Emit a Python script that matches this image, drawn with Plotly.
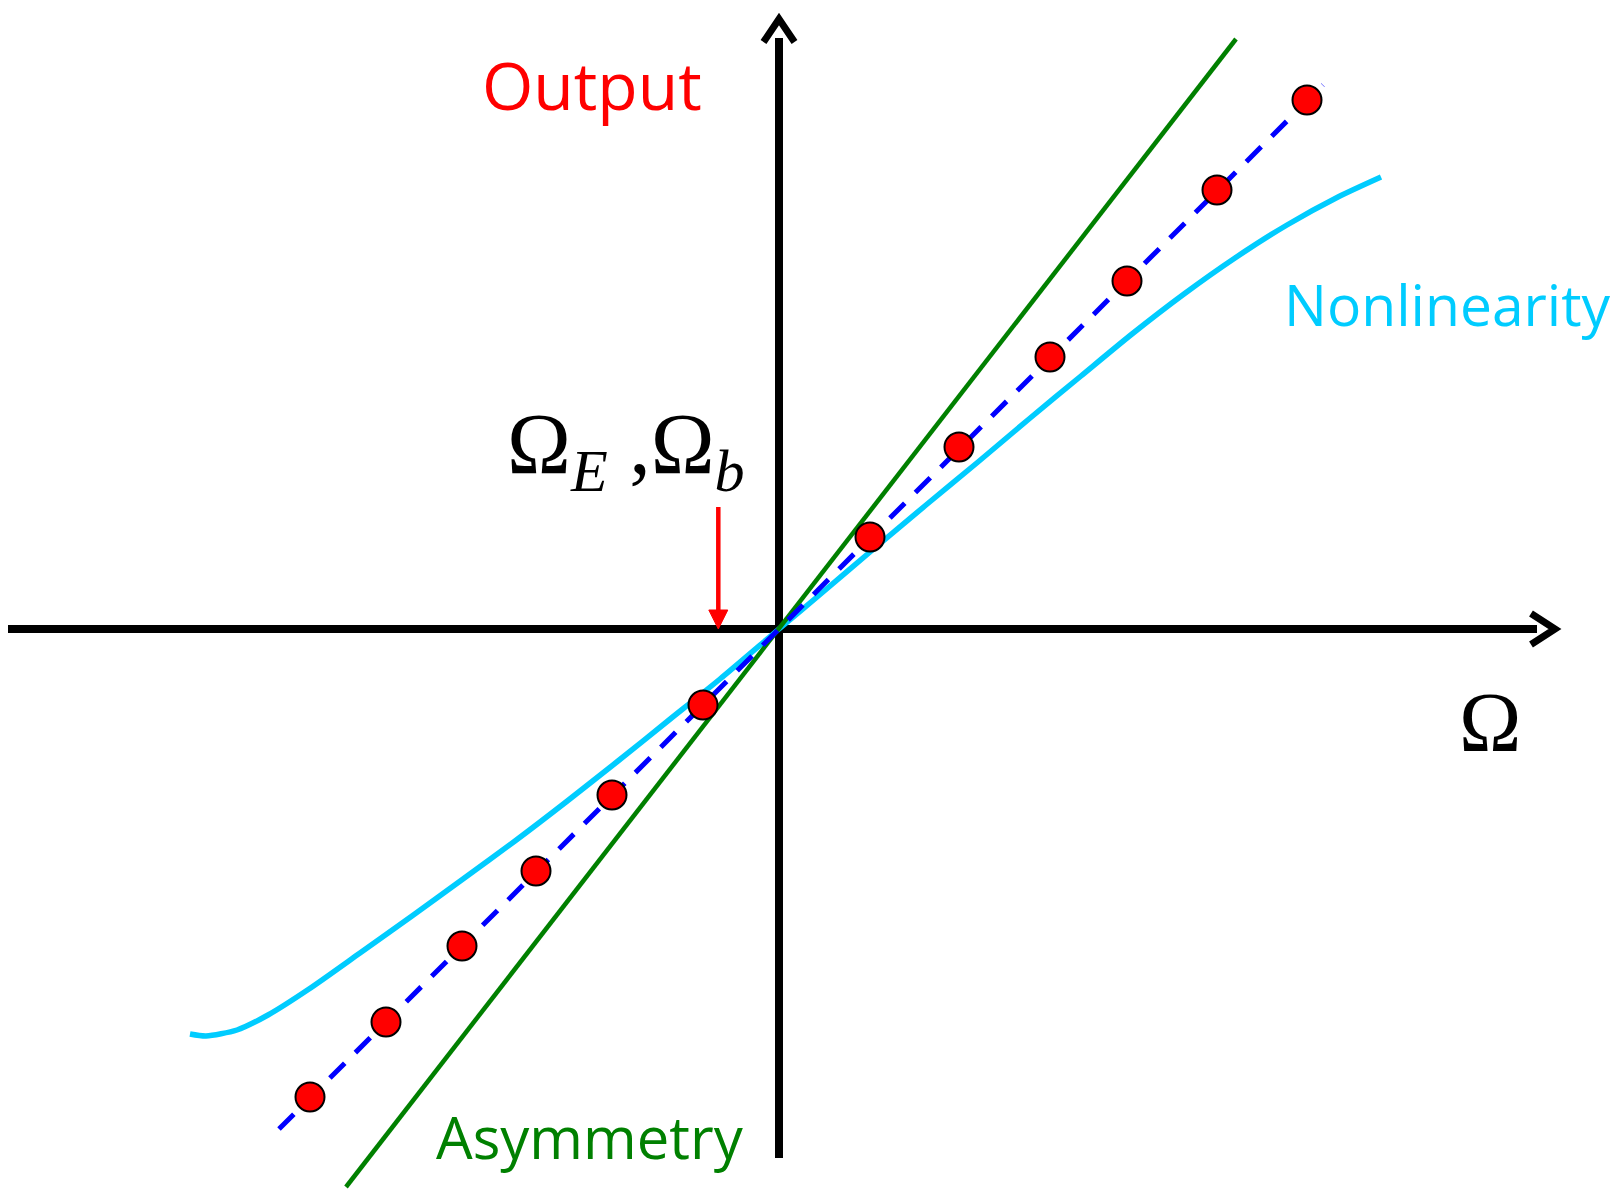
import plotly.graph_objects as go

# Input rate Omega (horizontal) vs. gyro output (vertical), arbitrary units
# --- measured output points (red dots)
dot_x = [-4.69, -3.93, -3.17, -2.43, -1.67, -0.76, 0.91, 1.80, 2.71, 3.48, 4.38, 5.28]
dot_y = [-4.68, -3.93, -3.17, -2.42, -1.66, -0.76, 0.92, 1.82, 2.72, 3.48, 4.39, 5.29]

# --- ideal linear response (blue dashed)
ideal_x = [-5.00, 5.44]
ideal_y = [-5.00, 5.44]

# --- asymmetric scale factor (green)
asym_x = [-4.33, 4.57]
asym_y = [-5.58, 5.90]

# --- nonlinear response (cyan)
nonlin_x = [-5.89, -5.73, -5.42, -5.11, -4.70, -4.19, -3.67, -3.16, -2.64, -2.13,
            -1.61, -1.10, -0.59, 0.00, 0.44, 0.91, 1.47, 1.99, 2.50, 3.02,
            3.53, 4.05, 4.56, 5.08, 5.59, 6.02]
nonlin_y = [-4.05, -4.07, -4.01, -3.86, -3.60, -3.24, -2.87, -2.50, -2.12, -1.73,
            -1.32, -0.91, -0.50, 0.00, 0.37, 0.77, 1.24, 1.67, 2.10, 2.53,
            2.95, 3.35, 3.71, 4.04, 4.32, 4.52]

# bias marker position on the Omega axis
bias_x = -0.607

X_RANGE = [-7.79, 8.35]
Y_RANGE = [-5.67, 6.29]

fig = go.Figure()

# coordinate axes with open arrow heads
axis_style = dict(color="black", width=8)
fig.add_trace(go.Scatter(x=[-7.71, 7.58], y=[0, 0], mode="lines", line=axis_style))
fig.add_trace(go.Scatter(x=[0, 0], y=[-5.29, 5.91], mode="lines", line=axis_style))
fig.add_trace(go.Scatter(x=[7.52, 7.76, 7.52], y=[0.155, 0, -0.155], mode="lines", line=dict(color="black", width=7)))
fig.add_trace(go.Scatter(x=[-0.155, 0, 0.155], y=[5.87, 6.10, 5.87], mode="lines", line=dict(color="black", width=7)))

fig.add_trace(go.Scatter(x=nonlin_x, y=nonlin_y, mode="lines",
                         line=dict(color="#00CCFF", width=5.5, shape="spline", smoothing=0.7)))
fig.add_trace(go.Scatter(x=asym_x, y=asym_y, mode="lines", line=dict(color="#008000", width=4.5)))
fig.add_trace(go.Scatter(x=ideal_x, y=ideal_y, mode="lines",
                         line=dict(color="#0000FF", width=5, dash="21px,15px")))
fig.add_trace(go.Scatter(x=dot_x, y=dot_y, mode="markers",
                         marker=dict(size=29, color="#FF0000", line=dict(color="black", width=2))))

# red arrow pointing at the bias on the Omega axis
fig.add_trace(go.Scatter(x=[bias_x, bias_x], y=[1.22, 0.16], mode="lines", line=dict(color="#FF0000", width=4.5)))
fig.add_trace(go.Scatter(x=[bias_x - 0.095, bias_x + 0.095, bias_x, bias_x - 0.095], y=[0.19, 0.19, 0.0, 0.19],
                         mode="lines", fill="toself", fillcolor="#FF0000", line=dict(color="#FF0000", width=1)))

sans = "Open Sans"
serif = "Liberation Serif"
annotations = [
    dict(x=-1.87, y=5.45, text="Output", font=dict(family=sans, size=66, color="#FF0000"),
         xanchor="center", yanchor="middle"),
    dict(x=5.03, y=3.25, text="Nonlinearity", font=dict(family=sans, size=57, color="#00CCFF"),
         xanchor="left", yanchor="middle"),
    dict(x=-3.45, y=-5.07, text="Asymmetry", font=dict(family=sans, size=58, color="#008000"),
         xanchor="left", yanchor="middle"),
    dict(x=-2.74, y=1.79, text="Ω<sub><i>E</i></sub> ,Ω<sub><i>b</i></sub>",
         font=dict(family=serif, size=86, color="black"), xanchor="left", yanchor="middle"),
    dict(x=6.78, y=-0.93, text="Ω", font=dict(family=serif, size=84, color="black"),
         xanchor="left", yanchor="middle"),
]
for a in annotations:
    a.update(xref="x", yref="y", showarrow=False)

fig.update_layout(
    width=1614, height=1196, autosize=False,
    margin=dict(l=0, r=0, t=0, b=0, pad=0),
    paper_bgcolor="white", plot_bgcolor="white",
    showlegend=False,
    annotations=annotations,
    xaxis=dict(range=X_RANGE, visible=False, fixedrange=True),
    yaxis=dict(range=Y_RANGE, visible=False, fixedrange=True),
)

fig.write_html("out.html", config={"displayModeBar": False})
